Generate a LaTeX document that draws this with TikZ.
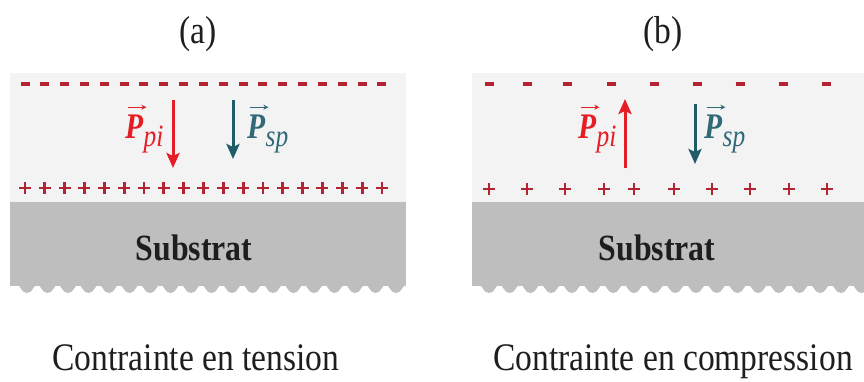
\documentclass[tikz,border=0pt]{standalone}
\usepackage{fontspec}
\setmainfont{Liberation Serif}
\newfontfamily\capfont[FakeStretch=0.86]{Liberation Serif}
\newfontfamily\labfont[FakeStretch=0.82]{Liberation Serif}
\usetikzlibrary{arrows.meta}
\definecolor{filmgray}{RGB}{243,243,243}
\definecolor{subgray}{RGB}{190,190,190}
\definecolor{chgred}{RGB}{180,35,50}
\definecolor{arrred}{RGB}{228,30,36}
\definecolor{arrteal}{RGB}{32,92,102}
\definecolor{labteal}{RGB}{50,105,120}
\definecolor{txtdark}{RGB}{30,30,30}
\tikzset{
  film/.style={fill=filmgray,draw=none},
  subs/.style={fill=subgray,draw=none},
  minussign/.style={draw=chgred,line width=3.2pt},
  plussign/.style={draw=chgred,line width=2.8pt},
  polarrow/.style={line width=3pt,-{Stealth[length=15pt,width=13pt,inset=3pt]}},
  vecarrow/.style={line width=1.3pt,-{Stealth[length=5pt,width=5pt]}},
  captxt/.style={font=\capfont\fontsize{39}{44}\selectfont,text=txtdark,inner sep=0pt},
  subtxt/.style={font=\capfont\bfseries\fontsize{37}{42}\selectfont,text=txtdark,inner sep=0pt},
  plab/.style={font=\labfont\bfseries\itshape\fontsize{36}{40}\selectfont,inner sep=0pt,anchor=base west},
  psub/.style={font=\labfont\itshape\fontsize{31}{34}\selectfont,inner sep=0pt,anchor=base west}
}
\begin{document}
\begin{tikzpicture}[x=1pt,y=-1pt]
\useasboundingbox (0,0) rectangle (864,381);
\begin{scope}
\clip (0,0) rectangle (864,381);
% ---------- panel (a)
\fill[film] (10,73) rectangle (406,202);
\fill[subs] (10,202) rectangle (406,286);
\foreach \i in {0,...,18}{
  \pgfmathsetmacro\cx{27+20.5*\i}
  \fill[subs] (\cx-10.25,285) .. controls (\cx-6,285) and (\cx-6,293) .. (\cx,293)
     .. controls (\cx+6,293) and (\cx+6,285) .. (\cx+10.25,285) -- cycle;
}
\foreach \i in {0,...,18}{
  \pgfmathsetmacro\xx{25+19.83*\i}
  \draw[minussign] (\xx-4.5,84) -- (\xx+4.5,84);
  \draw[plussign] (\xx-6,188) -- (\xx+6,188) (\xx,182) -- (\xx,194);
}
% ---------- panel (b)
\fill[film] (472,73) rectangle (864,202);
\fill[subs] (472,202) rectangle (864,286);
\foreach \i in {0,...,18}{
  \pgfmathsetmacro\cx{489+20.7*\i}
  \fill[subs] (\cx-10.35,285) .. controls (\cx-6,285) and (\cx-6,293) .. (\cx,293)
     .. controls (\cx+6,293) and (\cx+6,285) .. (\cx+10.35,285) -- cycle;
}
\foreach \xx in {489,527,567,611,654,697,740,783,826}{
  \draw[minussign] (\xx-4.5,84) -- (\xx+4.5,84);
}
\foreach \xx in {489,527,565,604,634,674,712,750,789,827}{
  \draw[plussign] (\xx-6,189) -- (\xx+6,189) (\xx,183) -- (\xx,195);
}
\end{scope}
% ---------- polarisation arrows
\coordinate (ra1) at (173,100); \coordinate (ra2) at (173,168);
\coordinate (ta1) at (233,100); \coordinate (ta2) at (233,159);
\coordinate (rb1) at (625,168); \coordinate (rb2) at (625,99);
\coordinate (tb1) at (695,104); \coordinate (tb2) at (695,164);
\draw[polarrow,draw=arrred,fill=arrred] (ra1) -- (ra2);
\draw[polarrow,draw=arrteal,fill=arrteal] (ta1) -- (ta2);
\draw[polarrow,draw=arrred,fill=arrred] (rb1) -- (rb2);
\draw[polarrow,draw=arrteal,fill=arrteal] (tb1) -- (tb2);
% ---------- labels
\foreach \nm/\xx/\sb/\col in {pa/125/pi/arrred, sa/247/sp/labteal, pb/578/pi/arrred, sb/704/sp/labteal}{
  \node[plab,text=\col] (P\nm) at (\xx,138) {P};
  \node[psub,text=\col] (S\nm) at ([xshift=0pt,yshift=-8pt]P\nm.base east) {\sb};
  \draw[vecarrow,draw=\col,fill=\col] ([xshift=3pt,yshift=7pt]P\nm.north west) -- ([xshift=3pt,yshift=7pt]P\nm.north east);
}
% ---------- texts
\node[captxt,anchor=base] (tita) at (198,43) {(a)};
\node[captxt,anchor=base] (titb) at (663,43) {(b)};
\node[subtxt,anchor=base] (suba) at (194,260) {Substrat};
\node[subtxt,anchor=base] (subb) at (657,260) {Substrat};
\node[captxt,anchor=base] (capa) at (196,370) {Contrainte en tension};
\node[captxt,anchor=base] (capb) at (673,370) {Contrainte en compression};
\end{tikzpicture}
\end{document}
